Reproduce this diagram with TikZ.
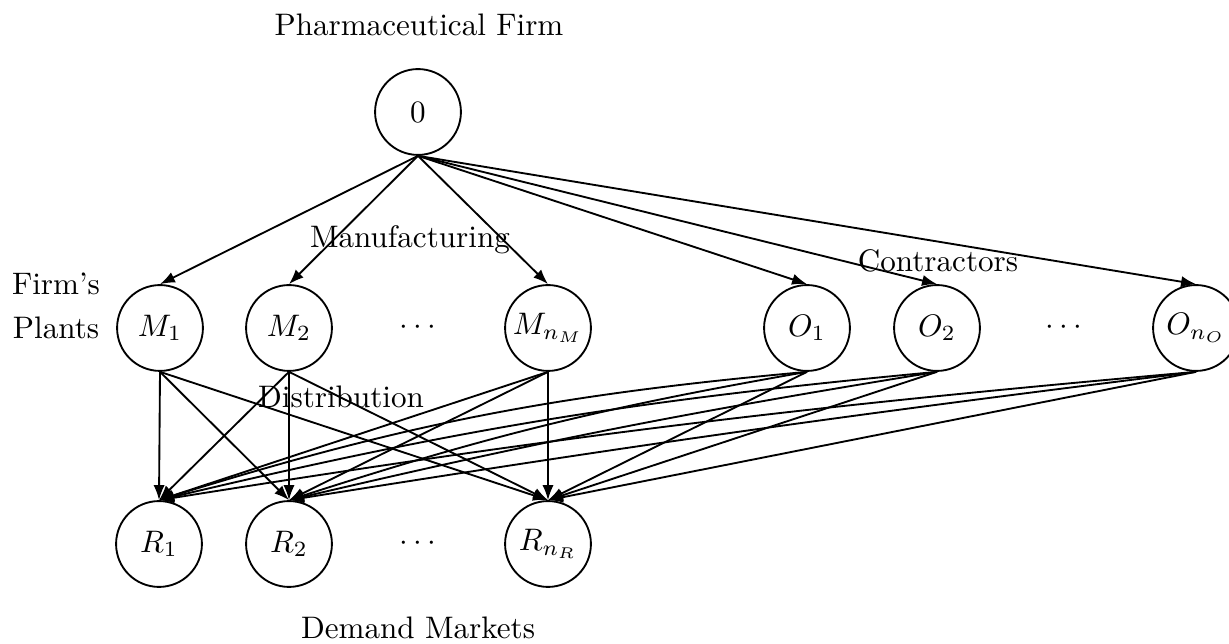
\documentclass[tikz,border=0pt]{standalone}
\usetikzlibrary{arrows.meta}
\begin{document}
\begin{tikzpicture}[x=0.3215pt,y=-0.3215pt,
  nd/.style={circle,draw,line width=0.6pt,minimum size=27.6pt,inner sep=0pt},
  arr/.style={-{Latex[length=4.8pt,width=3.6pt]},line width=0.6pt},
  lbl/.style={anchor=base,inner sep=0pt}]
\useasboundingbox (0,0) rectangle (1229,644);
\node[nd] (s) at (418,112) {$0$};
\node[nd] (m1) at (160,328) {$M_1$};
\node[nd] (m2) at (289,328) {$M_2$};
\node[nd] (mn) at (548,328) {$M_{n_M}$};
\node[nd] (o1) at (807,328) {$O_1$};
\node[nd] (o2) at (937,328) {$O_2$};
\node[nd] (on) at (1196,328) {$O_{n_O}$};
\node[nd] (r1) at (159,544) {$R_1$};
\node[nd] (r2) at (289,544) {$R_2$};
\node[nd] (rn) at (548,544) {$R_{n_R}$};
\node (d1) at (418,328) {$\cdots$};
\node (d2) at (1064,328) {$\cdots$};
\node (d3) at (418,544) {$\cdots$};
\node[lbl] (t0) at (419,36) {Pharmaceutical Firm};
\node[lbl] (tm) at (410,248) {Manufacturing};
\node[lbl] (tc) at (938,272) {Contractors};
\node[lbl] (td) at (341,408) {Distribution};
\node[lbl] (tf1) at (56,295) {Firm's};
\node[lbl] (tf2) at (56,339) {Plants};
\node[lbl] (tr) at (418,639) {Demand Markets};
\foreach \t in {m1,m2,mn,o1,o2,on} \draw[arr] (s.south) -- (\t.north);
\foreach \a in {m1,m2,mn} \foreach \b in {r1,r2,rn} \draw[arr] (\a.south) -- (\b.north);
\foreach \a/\ba/\bb in {o1/6/4,o2/4/2,on/2/1} {
  \draw[arr] (\a.south) to[bend right=\ba] (r1.north);
  \draw[arr] (\a.south) to[bend right=\bb] (r2.north);
  \draw[arr] (\a.south) -- (rn.north);
}
\end{tikzpicture}
\end{document}
